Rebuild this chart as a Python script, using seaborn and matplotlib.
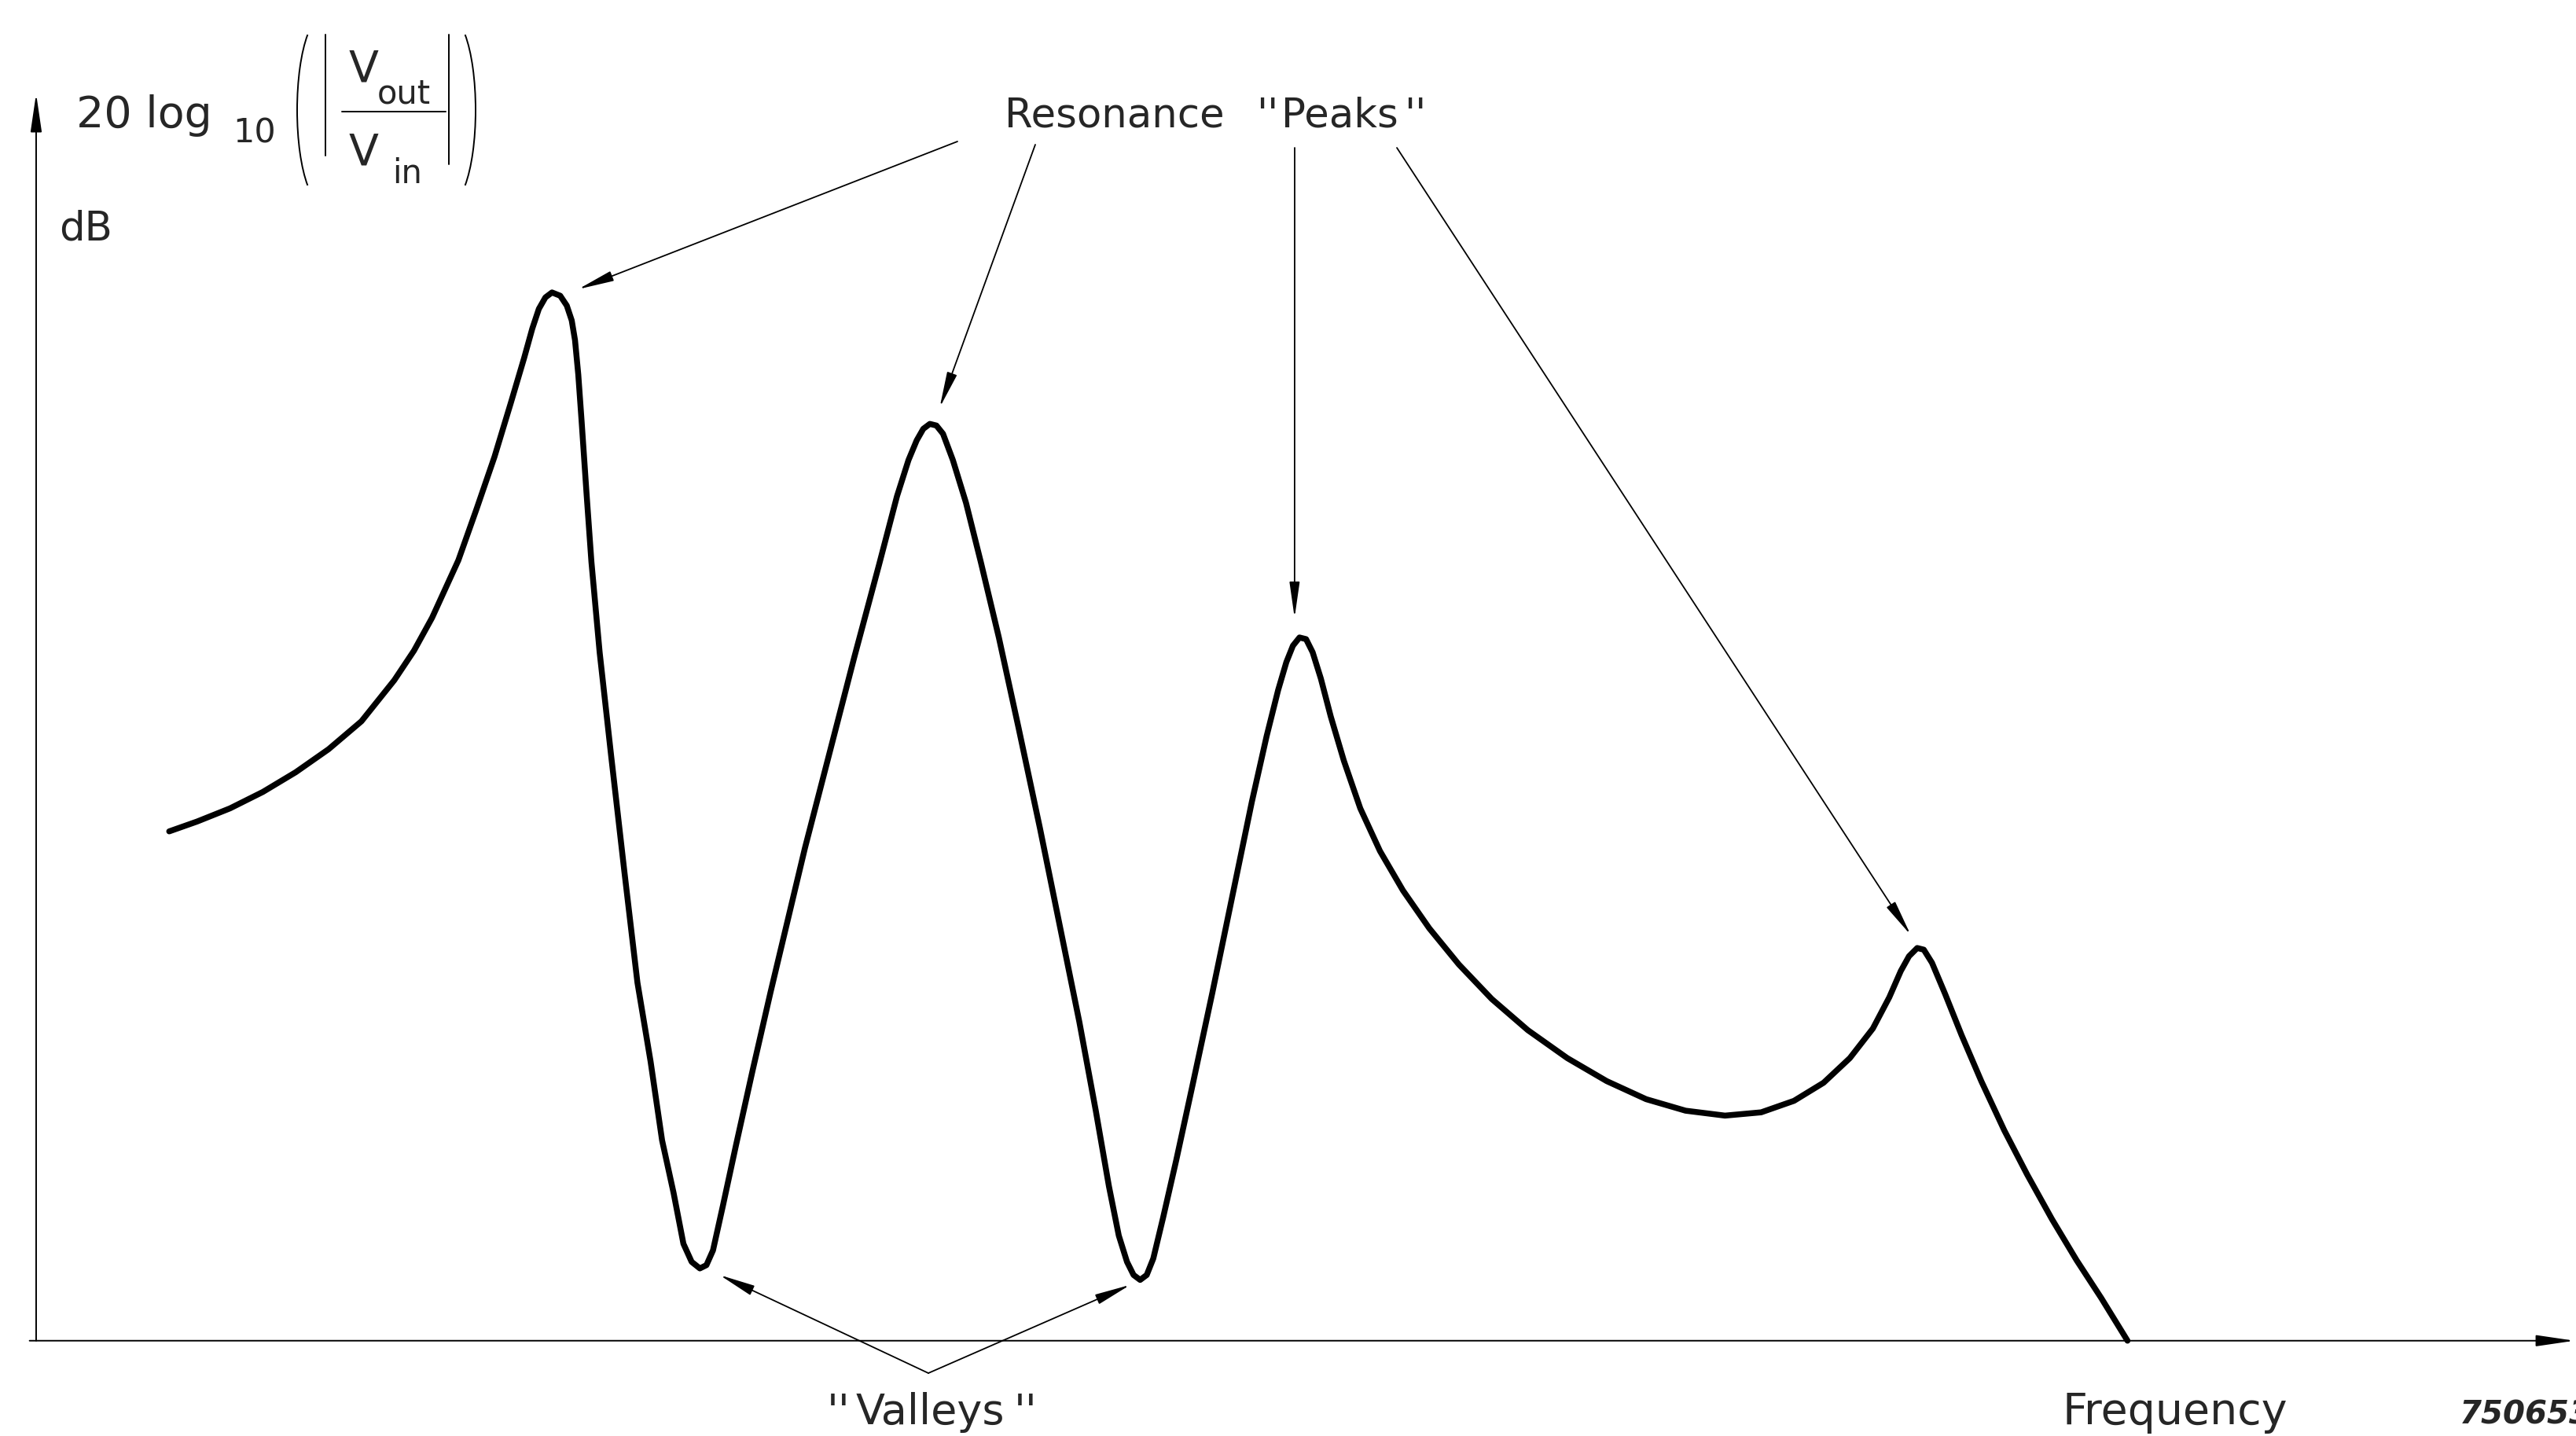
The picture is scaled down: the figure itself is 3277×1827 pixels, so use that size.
import numpy as np
import pandas as pd
import seaborn as sns
import matplotlib.pyplot as plt
from matplotlib.lines import Line2D
from matplotlib.patches import Arc
from matplotlib.transforms import IdentityTransform

# Frequency response (arbitrary frequency units, relative dB level above the axis)
freq = [81, 98, 118, 138, 158, 178, 198, 218, 230, 241, 257, 268, 279, 289, 297,
        302, 306, 310, 314, 319, 323, 326, 328, 330, 332, 335, 338, 343, 350,
        358, 366, 374, 381, 388, 394, 399, 404, 408,
        412, 418, 426, 436, 447, 468, 483, 498, 513, 524, 531, 536, 540, 544, 548, 552,
        558, 566, 575, 586, 598, 611, 623, 635, 645, 653, 659, 664, 668, 672, 676,
        680, 686, 694, 704, 716, 728, 740, 749, 756, 761, 765, 769, 773,
        777, 782, 788, 796, 806, 818, 832, 848, 866, 886, 908, 932, 956, 980, 1004,
        1028, 1050, 1070, 1088, 1104, 1118, 1128, 1135, 1140, 1145, 1149,
        1154, 1162, 1172, 1184, 1198, 1212, 1227, 1242, 1257, 1273]
level = [310, 316, 324, 334, 346, 360, 377, 402, 420, 440, 475, 506, 538, 571, 598,
         616, 628, 635, 638, 636, 630, 621, 609, 588, 560, 516, 474, 419, 356,
         286, 218, 170, 122, 90, 59, 48, 44, 46,
         55, 82, 119, 164, 212, 300, 358, 416, 472, 514, 536, 548, 555, 558, 557, 552,
         536, 510, 474, 428, 373, 312, 253, 194, 140, 94, 64, 48, 40, 37, 40,
         50, 75, 110, 156, 212, 270, 328, 368, 396, 413, 423, 428, 427,
         419, 403, 380, 353, 324, 298, 274, 251, 229, 208, 189, 172, 158, 147, 140,
         137, 139, 146, 157, 172, 190, 209, 225, 234, 239, 238,
         230, 211, 186, 158, 128, 101, 74, 49, 26, 0]

peak_word = "Resonance"
peak_name = "Peaks"
valley_name = "Valleys"
quote_mark = "''"
x_label = "Frequency"
fig_number = "750653"

W, H = 3277, 1827
DPI = 100

sns.set_theme(style="white")
plt.rcParams["font.family"] = ["DejaVu Sans"]

df = pd.DataFrame({"freq": freq, "level": level})

fig = plt.figure(figsize=(W / DPI, H / DPI), dpi=DPI)
ax = fig.add_axes([0, 0, 1, 1])
sns.lineplot(data=df, x="freq", y="level", ax=ax, color="black", lw=5.4,
             sort=False, estimator=None, solid_capstyle="round",
             solid_joinstyle="round")
ax.set_xlim(-22, 1546)
ax.set_ylim(-58, 816)
ax.set_axis_off()

PIX = IdentityTransform()


def px(x, y_top):
    """Figure-pixel position measured from the top-left corner."""
    return (x, H - y_top)


def label(x, y_top, s, **kw):
    kw.setdefault("fontsize", 37)
    kw.setdefault("ha", "left")
    kw.setdefault("va", "baseline")
    fig.text(x / W, 1 - y_top / H, s, **kw)


axis_arrow = dict(arrowstyle="-|>,head_length=1.5,head_width=0.22",
                  mutation_scale=20, lw=1.4, color="black",
                  shrinkA=0, shrinkB=0)
# Axes with arrowheads
ax.annotate("", xy=(1545, 0), xytext=(-4, 0), arrowprops=axis_arrow)
ax.annotate("", xy=(0, 759), xytext=(0, 0), arrowprops=axis_arrow)

# Locate resonance peaks and the deep valleys from the response
lv = np.array(level)
fq = np.array(freq)
inner = np.arange(1, len(lv) - 1)
peaks = inner[(lv[inner] > lv[inner - 1]) & (lv[inner] >= lv[inner + 1])]
valleys = inner[(lv[inner] < lv[inner - 1]) & (lv[inner] <= lv[inner + 1])]
valleys = valleys[lv[valleys] < 100]

pointer = dict(arrowstyle="-|>,head_length=1.4,head_width=0.2",
               mutation_scale=20, lw=1.3, color="black",
               shrinkA=0, shrinkB=0)

peak_sources = [px(1218, 180), px(1317, 184), px(1647, 188), px(1777, 188)]
peak_offsets = [(16, 2), (6, 10), (-3, 12), (-4, 8)]
for i, src, (dx, dy) in zip(peaks, peak_sources, peak_offsets):
    ax.annotate("", xy=(fq[i] + dx, lv[i] + dy), xycoords="data",
                xytext=src, textcoords="figure pixels", arrowprops=pointer)

valley_offsets = [(12, -4), (-6, -3)]
for i, (dx, dy) in zip(valleys, valley_offsets):
    ax.annotate("", xy=(fq[i] + dx, lv[i] + dy), xycoords="data",
                xytext=px(1181, 1747), textcoords="figure pixels",
                arrowprops=pointer)

# Labels with typewriter-style slanted quote marks
label(1278, 162, peak_word)
label(1598, 162, quote_mark, style="italic")
label(1630, 162, peak_name)
label(1786, 162, quote_mark, style="italic")

label(1052, 1812, quote_mark, fontsize=39, style="italic")
label(1089, 1812, valley_name, fontsize=39)
label(1290, 1812, quote_mark, fontsize=39, style="italic")

label(2623, 1812, x_label, fontsize=40)
label(3129, 1812, fig_number, fontsize=29, style="italic", weight="bold")

# Y-axis quantity: 20 log10(|Vout / Vin|), in dB
label(97, 162, "20 log", fontsize=40)
label(296, 182, "10", fontsize=31)
label(444, 103, "V", fontsize=40)
label(480, 132, "out", fontsize=30)
label(444, 209, "V", fontsize=40)
label(499, 233, "in", fontsize=30)
thin = dict(color="black", lw=1.4, transform=PIX)
fig.add_artist(Line2D([435, 567], [H - 142, H - 142], **thin))
fig.add_artist(Line2D([414, 414], [H - 44, H - 198], **thin))
fig.add_artist(Line2D([571, 571], [H - 44, H - 209], **thin))
fig.add_artist(Arc((410, H - 140), 64, 236, theta1=101, theta2=259, **thin))
fig.add_artist(Arc((573, H - 140), 64, 236, theta1=-79, theta2=79, **thin))
label(75, 305, "dB")

fig.savefig("out.png", dpi=DPI)
